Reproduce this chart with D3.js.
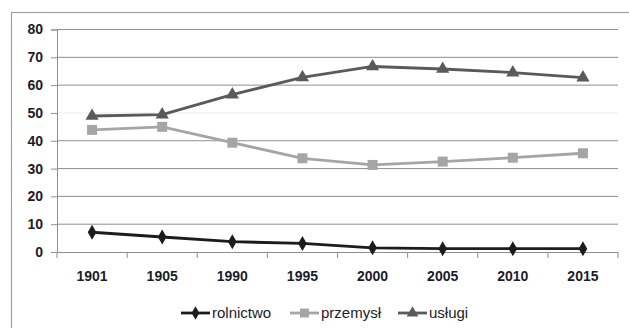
<!DOCTYPE html>
<html><head><meta charset="utf-8">
<script src="https://cdn.jsdelivr.net/npm/d3@7"></script>
<style>body{margin:0;background:#fff}svg{display:block}</style>
</head><body>
<svg id="c" width="629" height="328"></svg>
<script>
const years = ["1901","1905","1990","1995","2000","2005","2010","2015"];
const rolnictwo = [7.1, 5.4, 3.7, 3.1, 1.5, 1.2, 1.2, 1.2];
const przemysl = [43.9, 45.0, 39.3, 33.7, 31.3, 32.5, 33.9, 35.5];
const uslugi = [48.9, 49.4, 56.6, 62.8, 66.7, 65.8, 64.5, 62.7];
const yTicks = [0,10,20,30,40,50,60,70,80];
const seriesNames = ["rolnictwo","przemysł","usługi"];

const svg = d3.select("#c");
const L=57, R=618, T=29.5, B=252;
const x = d3.scaleBand().domain(years).range([L,R]);
const y = d3.scaleLinear().domain([0,80]).range([B,T]);
const FONT = "Liberation Sans, Arial, sans-serif";

// outer frame
svg.append("rect").attr("x",11.5).attr("y",12.5).attr("width",640).attr("height",340)
  .attr("fill","none").attr("stroke","#a0a0a0").attr("stroke-width",1.2);

// gridlines
svg.append("g").selectAll("line").data(yTicks.filter(d=>d>0)).join("line")
  .attr("x1",L).attr("x2",R).attr("y1",d=>y(d)).attr("y2",d=>y(d))
  .attr("stroke",d=>d===50?"#ececec":"#8f8f8f").attr("stroke-width",1);

// y axis
const ya = svg.append("g").attr("transform",`translate(${L},0)`)
  .call(d3.axisLeft(y).tickValues(yTicks).tickSize(6).tickPadding(8));
ya.select(".domain").attr("stroke","#8f8f8f");
ya.selectAll(".tick line").attr("stroke","#8f8f8f");
ya.selectAll("text").attr("font-family",FONT)
  .attr("font-size",14).attr("font-weight","bold").attr("fill","#1c1c28");

// x axis
const xa = svg.append("g").attr("transform",`translate(0,${B})`)
  .call(d3.axisBottom(x).tickSize(0).tickPadding(19.5));
xa.select(".domain").attr("stroke","#8f8f8f");
xa.selectAll("text").attr("font-family",FONT)
  .attr("font-size",14).attr("font-weight","bold").attr("fill","#1c1c28");
const bounds = years.map(d=>x(d)).concat([R]);
svg.append("g").selectAll("line").data(bounds).join("line")
  .attr("x1",d=>d).attr("x2",d=>d).attr("y1",B).attr("y2",B+6)
  .attr("stroke","#8f8f8f");

const cx = d=>x(d)+x.bandwidth()/2;
const line = d3.line().x((d,i)=>cx(years[i])).y(d=>y(d));

const series = [
  {name:seriesNames[0], vals:rolnictwo, color:"#1c1c1c", sym:d3.symbolDiamond, size:65},
  {name:seriesNames[1], vals:przemysl, color:"#a5a5a5", sym:d3.symbolSquare, size:100},
  {name:seriesNames[2], vals:uslugi, color:"#5a5a5a", sym:d3.symbolTriangle, size:75}
];
[series[2],series[1],series[0]].forEach(s=>{
  svg.append("path").datum(s.vals).attr("d",line).attr("fill","none")
    .attr("stroke",s.color).attr("stroke-width",2.8).attr("stroke-linejoin","round");
  svg.append("g").selectAll("path").data(s.vals).join("path")
    .attr("d",d3.symbol().type(s.sym).size(s.size))
    .attr("transform",(d,i)=>`translate(${cx(years[i])},${y(d)})`)
    .attr("fill",s.color);
});

// legend
const legX = [181, 290, 398];
const legY = 313;
series.forEach((s,i)=>{
  const g = svg.append("g").attr("transform",`translate(${legX[i]},${legY})`);
  g.append("line").attr("x1",0).attr("x2",29).attr("y1",0).attr("y2",0)
    .attr("stroke",s.color).attr("stroke-width",2.8);
  g.append("path").attr("d",d3.symbol().type(s.sym).size(s.size*0.8)).attr("transform","translate(14.5,0)").attr("fill",s.color);
  g.append("text").attr("x",31).attr("y",5).text(s.name)
    .attr("font-family",FONT).attr("font-size",15).attr("fill","#1c1c28");
});
</script>
</body></html>
